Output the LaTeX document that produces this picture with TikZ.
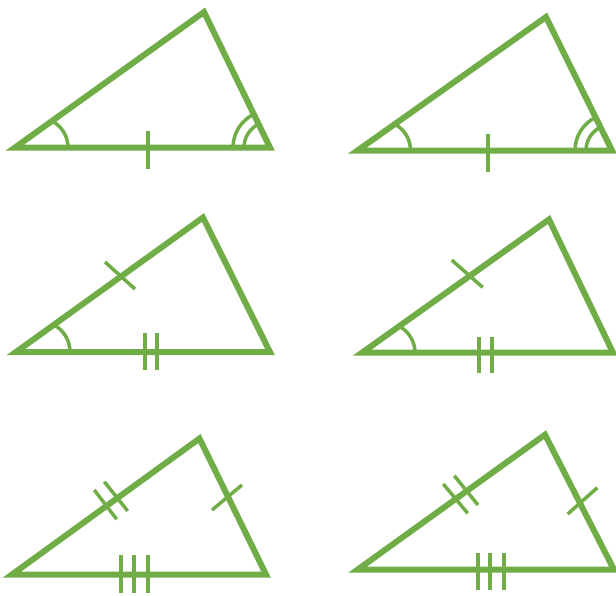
\documentclass[tikz,border=0pt]{standalone}
\usepackage{tikz}
\definecolor{leaf}{RGB}{112,173,71}
\usetikzlibrary{calc}

\begin{document}
\begin{tikzpicture}[x=1pt, y=-1pt,
    canh/.style={line width=6pt, leaf},
    dau/.style={line width=3.5pt, leaf}]
    \useasboundingbox (0,0) rectangle (616,595);
    % Tam giác 1
    \coordinate (L1) at (15,147.5);
    \coordinate (A1) at (204,12);
    \coordinate (R1) at (270,147.5);
    \draw[dau] ($(L1)+(53,0)$) arc[start angle=0, end angle=-62, radius=30];
    \draw[dau] ($(R1)+(-37,0)$) arc[start angle=180, end angle=244, radius=37];
    \draw[dau] ($(R1)+(-26,0)$) arc[start angle=180, end angle=244, radius=26];
    \draw[dau] (148,131) -- (148,168.5);
    \draw[canh] (L1) -- (A1) -- (R1) -- cycle;
    % Tam giác 2
    \coordinate (L2) at (357.5,150.5);
    \coordinate (A2) at (546,17);
    \coordinate (R2) at (612,150.5);
    \draw[dau] ($(L2)+(53,0)$) arc[start angle=0, end angle=-62, radius=30];
    \draw[dau] ($(R2)+(-37,0)$) arc[start angle=180, end angle=244, radius=37];
    \draw[dau] ($(R2)+(-26,0)$) arc[start angle=180, end angle=244, radius=26];
    \draw[dau] (488,134) -- (488,171.5);
    \draw[canh] (L2) -- (A2) -- (R2) -- cycle;
    % Tam giác 3
    \coordinate (L3) at (16,352);
    \coordinate (A3) at (203,217.5);
    \coordinate (R3) at (270,352);
    \draw[dau] ($(L3)+(54,0)$) arc[start angle=0, end angle=-62, radius=31];
    \draw[dau] (105,262) -- (135,289);
    \foreach \x in {145,157}
        \draw[dau] (\x,333) -- (\x,370);
    \draw[canh] (L3) -- (A3) -- (R3) -- cycle;
    % Tam giác 4
    \coordinate (L4) at (362,352.7);
    \coordinate (A4) at (549,219.5);
    \coordinate (R4) at (613,352.7);
    \draw[dau] ($(L4)+(53,0)$) arc[start angle=0, end angle=-62, radius=30];
    \draw[dau] (451.7,260) -- (482.7,287.3);
    \foreach \x in {479,492}
        \draw[dau] (\x,336.5) -- (\x,373);
    \draw[canh] (L4) -- (A4) -- (R4) -- cycle;
    % Tam giác 5
    \coordinate (L5) at (12,574.5);
    \coordinate (A5) at (199.5,438.5);
    \coordinate (R5) at (266,574.5);
    \draw[dau] (94.3,490) -- (116.7,519.3);
    \draw[dau] (104.3,481.7) -- (127.7,511);
    \draw[dau] (212,510) -- (242,485);
    \foreach \x in {121,134,148}
        \draw[dau] (\x,555) -- (\x,593);
    \draw[canh] (L5) -- (A5) -- (R5) -- cycle;
    % Tam giác 6
    \coordinate (L6) at (357.5,569.7);
    \coordinate (A6) at (545,434.7);
    \coordinate (R6) at (614,569.7);
    \draw[dau] (443.3,484) -- (467.7,513.3);
    \draw[dau] (454.3,475.7) -- (478,505);
    \draw[dau] (567.7,514) -- (597.3,487.7);
    \foreach \x in {478,490,504}
        \draw[dau] (\x,553) -- (\x,590);
    \draw[canh] (L6) -- (A6) -- (R6) -- cycle;
\end{tikzpicture}
\end{document}
